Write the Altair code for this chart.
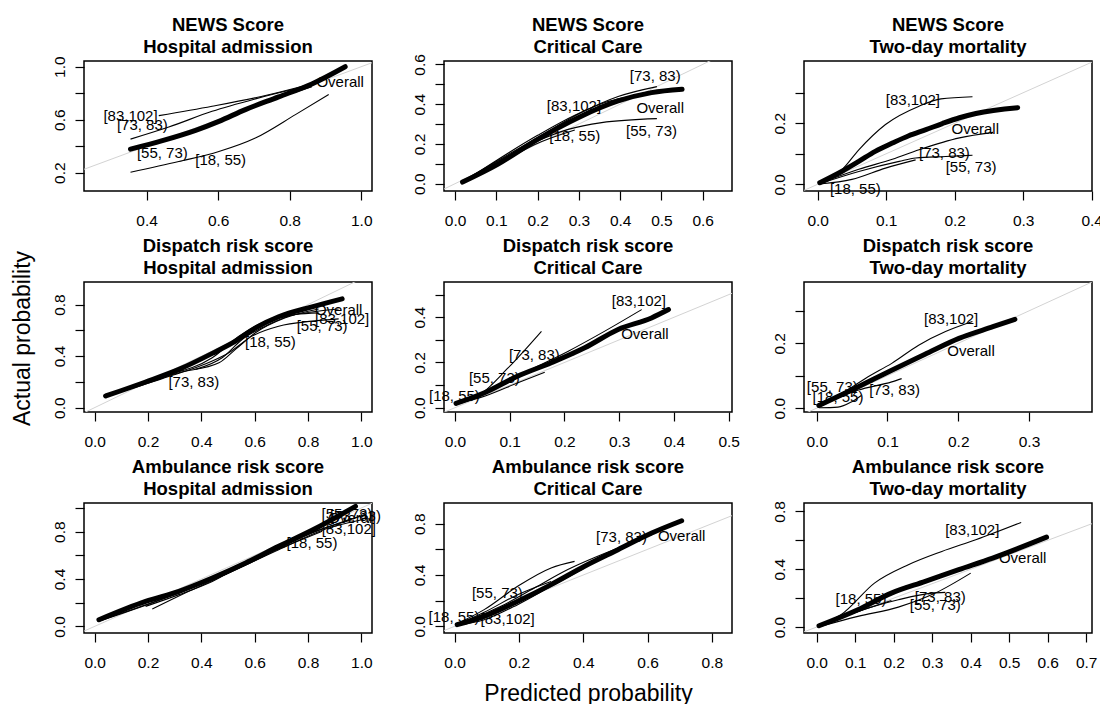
import altair as alt
import pandas as pd

FONT = "Liberation Sans"

# ---------------- data ----------------
# Row 1: NEWS Score
NEWS_ADM = {
    "Overall": ([0.355, 0.444, 0.537, 0.602, 0.676, 0.769, 0.862, 0.955],
                [0.377, 0.441, 0.519, 0.587, 0.676, 0.772, 0.870, 1.000]),
    "[83,102]": ([0.434, 0.583, 0.732, 0.844], [0.630, 0.701, 0.782, 0.858]),
    "[73, 83)": ([0.355, 0.462, 0.583, 0.704, 0.816], [0.453, 0.544, 0.663, 0.757, 0.833]),
    "[55, 73)": ([0.355, 0.490, 0.630, 0.769, 0.862], [0.372, 0.478, 0.625, 0.765, 0.848]),
    "[18, 55)": ([0.355, 0.490, 0.602, 0.704, 0.816, 0.909], [0.203, 0.284, 0.359, 0.461, 0.638, 0.790]),
}
NEWS_ADM_LABELS = [("Overall", 0.941, 0.884), ("[83,102]", 0.355, 0.625), ("[73, 83)", 0.388, 0.562),
                   ("[55, 73)", 0.444, 0.347), ("[18, 55)", 0.607, 0.296)]

NEWS_CC = {
    "Overall": ([0.018, 0.103, 0.200, 0.298, 0.395, 0.476, 0.550],
                [0.008, 0.097, 0.223, 0.332, 0.416, 0.458, 0.475]),
    "[73, 83)": ([0.018, 0.200, 0.298, 0.395, 0.489], [0.013, 0.232, 0.349, 0.438, 0.488]),
    "[83,102]": ([0.030, 0.200, 0.290, 0.363, 0.436, 0.476], [0.022, 0.243, 0.344, 0.408, 0.445, 0.466]),
    "[55, 73)": ([0.018, 0.200, 0.274, 0.355, 0.489], [0.005, 0.215, 0.273, 0.307, 0.327]),
    "[18, 55)": ([0.018, 0.111, 0.192, 0.290], [0.002, 0.104, 0.196, 0.270]),
}
NEWS_CC_LABELS = [("[73, 83)", 0.485, 0.542), ("[83,102]", 0.288, 0.391), ("Overall", 0.497, 0.383),
                  ("[55, 73)", 0.476, 0.265), ("[18, 55)", 0.290, 0.240)]

NEWS_MORT = {
    "Overall": ([0.003, 0.035, 0.060, 0.084, 0.109, 0.133, 0.158, 0.182, 0.207, 0.231, 0.292],
                [0.005, 0.042, 0.075, 0.108, 0.135, 0.159, 0.179, 0.199, 0.218, 0.232, 0.251]),
    "[83,102]": ([0.003, 0.035, 0.060, 0.099, 0.148, 0.180, 0.226], [0.009, 0.047, 0.113, 0.196, 0.256, 0.280, 0.287]),
    "[73, 83)": ([0.003, 0.060, 0.109, 0.148, 0.207, 0.256], [0.003, 0.049, 0.082, 0.113, 0.152, 0.170]),
    "[55, 73)": ([0.003, 0.060, 0.119, 0.143, 0.187, 0.226], [0.002, 0.042, 0.075, 0.086, 0.091, 0.095]),
    "[18, 55)": ([0.003, 0.050, 0.099, 0.143], [0.001, 0.016, 0.053, 0.080]),
}
NEWS_MORT_LABELS = [("[83,102]", 0.139, 0.276), ("Overall", 0.230, 0.181), ("[73, 83)", 0.185, 0.102),
                    ("[55, 73)", 0.224, 0.058), ("[18, 55)", 0.055, -0.015)]

# Row 2: Dispatch risk score
DISP_ADM = {
    "Overall": ([0.041, 0.191, 0.316, 0.441, 0.528, 0.603, 0.690, 0.815, 0.928],
                [0.090, 0.199, 0.297, 0.421, 0.516, 0.619, 0.705, 0.782, 0.844]),
    "[73, 83)": ([0.129, 0.316, 0.466, 0.528, 0.603, 0.715, 0.840], [0.155, 0.271, 0.348, 0.452, 0.581, 0.697, 0.766]),
    "[55, 73)": ([0.066, 0.253, 0.441, 0.503, 0.590, 0.690, 0.815, 0.915], [0.103, 0.225, 0.361, 0.426, 0.555, 0.632, 0.671, 0.689]),
    "[83,102]": ([0.291, 0.441, 0.541, 0.628, 0.753, 0.915], [0.266, 0.387, 0.555, 0.658, 0.723, 0.766]),
    "[18, 55)": ([0.378, 0.478, 0.553, 0.640, 0.753, 0.840], [0.297, 0.387, 0.529, 0.632, 0.723, 0.735]),
}
DISP_ADM_LABELS = [("Overall", 0.915, 0.754), ("[83,102]", 0.928, 0.689), ("[55, 73)", 0.853, 0.632),
                   ("[18, 55)", 0.659, 0.508), ("[73, 83)", 0.372, 0.199)]

DISP_CC = {
    "Overall": ([0.002, 0.054, 0.115, 0.176, 0.237, 0.298, 0.359, 0.390],
                [0.019, 0.066, 0.140, 0.199, 0.265, 0.346, 0.397, 0.434]),
    "[83,102]": ([0.005, 0.084, 0.145, 0.207, 0.268, 0.341], [0.020, 0.103, 0.176, 0.250, 0.331, 0.434]),
    "[73, 83)": ([0.005, 0.084, 0.145, 0.194, 0.219], [0.022, 0.096, 0.169, 0.221, 0.235]),
    "[18, 55)": ([0.002, 0.042, 0.097, 0.158], [0.015, 0.051, 0.176, 0.338]),
    "[55, 73)": ([0.002, 0.054, 0.115, 0.164], [0.018, 0.051, 0.110, 0.157]),
}
DISP_CC_LABELS = [("[83,102]", 0.336, 0.470), ("Overall", 0.347, 0.326), ("[73, 83)", 0.145, 0.235),
                  ("[55, 73)", 0.072, 0.132), ("[18, 55)", -0.001, 0.051)]

DISP_MORT = {
    "Overall": ([0.003, 0.058, 0.106, 0.153, 0.201, 0.249, 0.280],
                [0.008, 0.065, 0.117, 0.166, 0.215, 0.251, 0.274]),
    "[83,102]": ([0.003, 0.039, 0.072, 0.106, 0.144, 0.182, 0.220], [0.013, 0.050, 0.096, 0.138, 0.194, 0.236, 0.267]),
    "[73, 83)": ([0.003, 0.058, 0.106, 0.120], [0.005, 0.055, 0.081, 0.091]),
    "[55, 73)": ([0.003, 0.034, 0.068, 0.080], [0.008, 0.044, 0.075, 0.082]),
    "[18, 55)": ([0.003, 0.030, 0.049, 0.063], [0.001, 0.003, 0.019, 0.039]),
}
DISP_MORT_LABELS = [("[83,102]", 0.190, 0.274), ("Overall", 0.218, 0.177), ("[55, 73)", 0.022, 0.065),
                    ("[18, 55)", 0.030, 0.034), ("[73, 83)", 0.110, 0.057)]

# Row 3: Ambulance risk score
AMB_ADM = {
    "Overall": ([0.016, 0.191, 0.316, 0.441, 0.566, 0.690, 0.815, 0.978],
                [0.056, 0.211, 0.296, 0.408, 0.535, 0.676, 0.811, 1.014]),
    "[18, 55)": ([0.191, 0.316, 0.441, 0.590, 0.715, 0.853], [0.169, 0.268, 0.380, 0.563, 0.676, 0.803]),
    "[83,102]": ([0.216, 0.353, 0.503, 0.690, 0.878, 1.002], [0.146, 0.296, 0.451, 0.648, 0.831, 0.901]),
    "[55, 73)": ([0.016, 0.316, 0.566, 0.815, 1.015], [0.043, 0.282, 0.521, 0.789, 0.944]),
    "[73, 83)": ([0.016, 0.316, 0.566, 0.815, 0.965], [0.048, 0.287, 0.529, 0.794, 0.901]),
}
AMB_ADM_LABELS = [("[55, 73)", 0.946, 0.949), ("[73, 83)", 0.978, 0.930), ("Overall", 0.965, 0.915),
                  ("[83,102]", 0.953, 0.823), ("[18, 55)", 0.815, 0.704)]

AMB_CC = {
    "Overall": ([0.008, 0.092, 0.196, 0.300, 0.404, 0.508, 0.613, 0.706],
                [0.013, 0.078, 0.195, 0.325, 0.468, 0.597, 0.727, 0.823]),
    "[55, 73)": ([0.008, 0.092, 0.196, 0.300, 0.373], [0.021, 0.130, 0.312, 0.455, 0.506]),
    "[73, 83)": ([0.008, 0.144, 0.248, 0.352, 0.508, 0.613], [0.013, 0.156, 0.299, 0.442, 0.610, 0.714]),
    "[18, 55)": ([0.008, 0.092, 0.196, 0.300], [0.013, 0.109, 0.247, 0.350]),
    "[83,102]": ([0.008, 0.092, 0.196, 0.300, 0.404], [0.008, 0.052, 0.169, 0.312, 0.455]),
}
AMB_CC_LABELS = [("Overall", 0.706, 0.701), ("[73, 83)", 0.519, 0.696), ("[55, 73)", 0.133, 0.260),
                 ("[18, 55)", -0.002, 0.073), ("[83,102]", 0.165, 0.060)]

AMB_MORT = {
    "Overall": ([0.006, 0.107, 0.194, 0.282, 0.369, 0.457, 0.597],
                [0.009, 0.120, 0.235, 0.316, 0.397, 0.477, 0.622]),
    "[83,102]": ([0.006, 0.063, 0.150, 0.238, 0.325, 0.413, 0.531], [0.016, 0.085, 0.304, 0.431, 0.523, 0.604, 0.724]),
    "[55, 73)": ([0.006, 0.107, 0.212, 0.308, 0.400], [0.002, 0.074, 0.138, 0.235, 0.373]),
    "[73, 83)": ([0.006, 0.107, 0.212, 0.299, 0.334], [0.007, 0.108, 0.189, 0.235, 0.240]),
    "[18, 55)": ([0.006, 0.072, 0.133, 0.194], [0.005, 0.074, 0.131, 0.184]),
}
AMB_MORT_LABELS = [("[83,102]", 0.404, 0.673), ("Overall", 0.535, 0.477), ("[18, 55)", 0.115, 0.196),
                   ("[73, 83)", 0.321, 0.207), ("[55, 73)", 0.308, 0.154)]

# axis ranges, tick values and which y ticks carry a label
PANELS = [
    (["NEWS Score", "Hospital admission"], NEWS_ADM, NEWS_ADM_LABELS, [0.225, 1.030], [0.061, 1.043],
     [0.4, 0.6, 0.8, 1.0], [0.2, 0.4, 0.6, 0.8, 1.0], [0.2, 0.6, 1.0]),
    (["NEWS Score", "Critical Care"], NEWS_CC, NEWS_CC_LABELS, [-0.027, 0.671], [-0.037, 0.617],
     [0.0, 0.1, 0.2, 0.3, 0.4, 0.5, 0.6], [0.0, 0.1, 0.2, 0.3, 0.4, 0.5, 0.6], [0.0, 0.2, 0.4, 0.6]),
    (["NEWS Score", "Two-day mortality"], NEWS_MORT, NEWS_MORT_LABELS, [-0.020, 0.4005], [-0.022, 0.404],
     [0.0, 0.1, 0.2, 0.3, 0.4], [0.0, 0.1, 0.2, 0.3], [0.0, 0.2]),
    (["Dispatch risk score", "Hospital admission"], DISP_ADM, DISP_ADM_LABELS, [-0.040, 1.040], [-0.034, 0.975],
     [0.0, 0.2, 0.4, 0.6, 0.8, 1.0], [0.0, 0.2, 0.4, 0.6, 0.8], [0.0, 0.4, 0.8]),
    (["Dispatch risk score", "Critical Care"], DISP_CC, DISP_CC_LABELS, [-0.020, 0.506], [-0.019, 0.556],
     [0.0, 0.1, 0.2, 0.3, 0.4, 0.5], [0.0, 0.1, 0.2, 0.3, 0.4, 0.5], [0.0, 0.2, 0.4]),
    (["Dispatch risk score", "Two-day mortality"], DISP_MORT, DISP_MORT_LABELS, [-0.018, 0.389], [-0.012, 0.389],
     [0.0, 0.1, 0.2, 0.3], [0.0, 0.1, 0.2, 0.3], [0.0, 0.2]),
    (["Ambulance risk score", "Hospital admission"], AMB_ADM, AMB_ADM_LABELS, [-0.040, 1.040], [-0.056, 1.042],
     [0.0, 0.2, 0.4, 0.6, 0.8, 1.0], [0.0, 0.2, 0.4, 0.6, 0.8, 1.0], [0.0, 0.4, 0.8]),
    (["Ambulance risk score", "Critical Care"], AMB_CC, AMB_CC_LABELS, [-0.033, 0.8625], [-0.052, 0.961],
     [0.0, 0.2, 0.4, 0.6, 0.8], [0.0, 0.2, 0.4, 0.6, 0.8], [0.0, 0.4, 0.8]),
    (["Ambulance risk score", "Two-day mortality"], AMB_MORT, AMB_MORT_LABELS, [-0.033, 0.715], [-0.041, 0.858],
     [0.0, 0.1, 0.2, 0.3, 0.4, 0.5, 0.6, 0.7], [0.0, 0.2, 0.4, 0.6, 0.8], [0.0, 0.4, 0.8]),
]

DIAG = pd.DataFrame({"x": [-1.0, 2.0], "y": [-1.0, 2.0]})
W, H = 288, 130


def make_panel(idx, title, curves, labels, xdom, ydom, xticks, yticks, ylab):
    rows = []
    for name, (xs, ys) in curves.items():
        for i, (a, b) in enumerate(zip(xs, ys)):
            rows.append({"series": name, "x": a, "y": b, "i": i})
    df = pd.DataFrame(rows)
    lab = pd.DataFrame(labels, columns=["label", "x", "y"])

    expr = "(" + " || ".join(f"abs(datum.value - {v}) < 0.0001" for v in ylab) + ") ? datum.label : ''"

    xkw = dict(values=xticks, format=".1f")
    ykw = dict(values=yticks, format=".1f", labelExpr=expr)
    if idx == 7:
        xkw.update(title="Predicted probability", titleBaseline="alphabetic", titleY=67)
    else:
        xkw.update(title=None)
    if idx == 3:
        ykw.update(title="Actual probability", titleAngle=270, titleBaseline="alphabetic",
                   titleAlign="center", titleX=-55, titleY=56)
    else:
        ykw.update(title=None)

    xenc = alt.X("x:Q", scale=alt.Scale(domain=xdom, nice=False, zero=False), axis=alt.Axis(**xkw))
    yenc = alt.Y("y:Q", scale=alt.Scale(domain=ydom, nice=False, zero=False), axis=alt.Axis(**ykw))

    diag = alt.Chart(DIAG).mark_line(color="#d3d3d3", strokeWidth=1, clip=True).encode(x=xenc, y=yenc)
    thin = alt.Chart(df[df.series != "Overall"]).mark_line(
        color="black", strokeWidth=1.1, interpolate="monotone", clip=True
    ).encode(x=xenc, y=yenc, detail="series:N", order="i:Q")
    thick = alt.Chart(df[df.series == "Overall"]).mark_line(
        color="black", strokeWidth=5, strokeCap="round", interpolate="monotone", clip=True
    ).encode(x=xenc, y=yenc, order="i:Q")
    text = alt.Chart(lab).mark_text(font=FONT, fontSize=15, color="black").encode(
        x=xenc, y=yenc, text="label:N")
    head = alt.Chart(pd.DataFrame({"t": [0]})).mark_text(
        text=title, font=FONT, fontSize=18.5, fontWeight="bold", color="black",
        align="center", baseline="alphabetic", lineHeight=21.5,
    ).encode(x=alt.value(W / 2), y=alt.value(-30))

    return alt.layer(diag, thin, thick, text, head).properties(width=W, height=H)


panels = [make_panel(i, *p) for i, p in enumerate(PANELS)]

chart = alt.concat(*panels, columns=3, spacing={"row": 91, "column": 72}, bounds="flush").properties(
    padding={"left": 10, "top": 15, "right": -4, "bottom": -2},
    background="white",
).configure_view(
    stroke="black", strokeWidth=1.5
).configure_axis(
    domain=False, grid=False, tickColor="black", tickSize=9, tickWidth=1.2,
    labelFont=FONT, labelFontSize=15.5, labelColor="black", labelOverlap=False, labelFlush=False,
    titleFont=FONT, titleFontSize=23, titleFontWeight="normal", titleColor="black",
).configure_axisX(
    labelBaseline="alphabetic", labelPadding=25, labelAngle=0,
).configure_axisY(
    labelAngle=270, labelAlign="center", labelBaseline="alphabetic", labelPadding=11,
)

chart.save("out.html", embed_options={"renderer": "svg", "actions": False})
